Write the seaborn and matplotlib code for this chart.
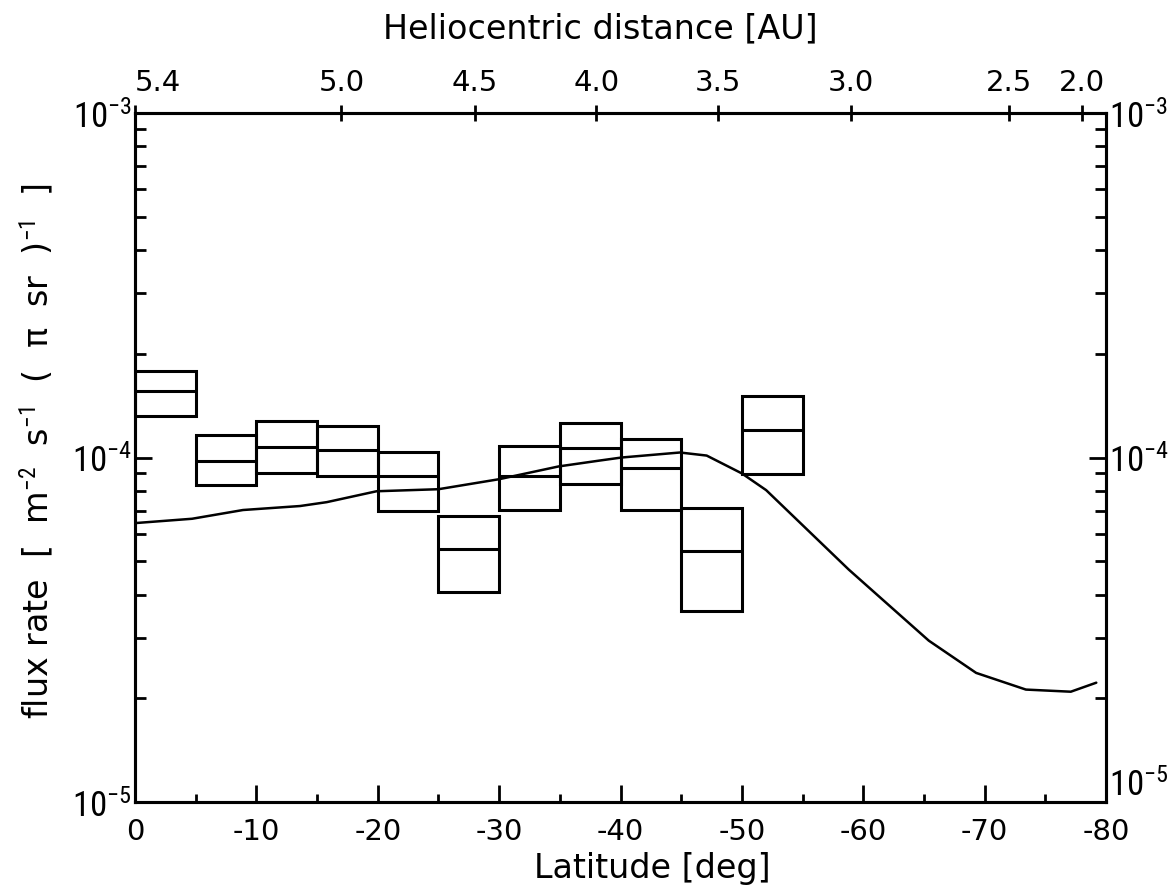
import numpy as np
import pandas as pd
import matplotlib
matplotlib.use("Agg")
import matplotlib.pyplot as plt
import seaborn as sns
from matplotlib.ticker import LogLocator, FixedLocator, NullFormatter, FixedFormatter
from matplotlib import font_manager

# ---------------- data ----------------
bin_center = [-2.5, -7.5, -12.5, -17.5, -22.5, -27.5, -32.5, -37.5, -42.5, -47.5, -52.5]
flux_mid = [1.56e-4, 9.80e-5, 1.076e-4, 1.054e-4, 8.82e-5, 5.44e-5, 8.82e-5, 1.069e-4, 9.30e-5, 5.36e-5, 1.204e-4]
flux_low = [1.32e-4, 8.31e-5, 8.99e-5, 8.82e-5, 6.99e-5, 4.06e-5, 7.04e-5, 8.36e-5, 7.04e-5, 3.58e-5, 8.93e-5]
flux_high = [1.78e-4, 1.165e-4, 1.278e-4, 1.236e-4, 1.034e-4, 6.76e-5, 1.083e-4, 1.261e-4, 1.134e-4, 7.13e-5, 1.507e-4]
bin_width = 5.0

model_lat = [0, -4.7, -8.9, -13.6, -15.8, -19.9, -25.0, -30.0, -34.9, -38.3, -40.1,
             -44.9, -47.1, -50.0, -52.0, -58.8, -61.3, -65.4, -69.3, -73.4, -77.1, -79.2]
model_flux = [6.45e-5, 6.64e-5, 7.04e-5, 7.23e-5, 7.42e-5, 7.98e-5, 8.09e-5, 8.65e-5, 9.42e-5,
              9.80e-5, 1.0e-4, 1.034e-4, 1.013e-4, 8.99e-5, 8.04e-5, 4.73e-5, 3.95e-5,
              2.94e-5, 2.37e-5, 2.12e-5, 2.09e-5, 2.22e-5]

lat_ticks = [0, -10, -20, -30, -40, -50, -60, -70, -80]
lat_labels = ["0", "-10", "-20", "-30", "-40", "-50", "-60", "-70", "-80"]
dist_tick_lat = [0, -17, -28, -38, -48, -59, -72, -78]
dist_labels = ["5.4", "5.0", "4.5", "4.0", "3.5", "3.0", "2.5", "2.0"]
flux_ticks = [1e-5, 1e-4, 1e-3]
flux_labels = [r"$10^{-5}$", r"$10^{-4}$", r"$10^{-3}$"]

# ---------------- style ----------------
sns.set_style("ticks")
installed = {f.name for f in font_manager.fontManager.ttflist}
narrow = None
for cand in ["Roboto Condensed", "Liberation Sans Narrow", "DejaVu Sans Condensed"]:
    if cand in installed:
        narrow = cand
        break
plt.rcParams["font.family"] = ["DejaVu Sans"]
if narrow:
    plt.rcParams["mathtext.fontset"] = "custom"
    plt.rcParams["mathtext.rm"] = narrow
    plt.rcParams["mathtext.it"] = narrow
    plt.rcParams["mathtext.sf"] = narrow
    plt.rcParams["mathtext.fallback"] = "stixsans"
for k in ["text.color", "axes.labelcolor", "xtick.color", "ytick.color", "axes.edgecolor"]:
    plt.rcParams[k] = "black"
plt.rcParams["axes.linewidth"] = 2.2
LABEL_FS = 24
TICK_FS = 21
YTICK_FS = 25 if narrow else 18

fig = plt.figure(figsize=(11.69, 8.95), dpi=100)
ax = fig.add_axes([135 / 1169, 1 - 803 / 895, (1106 - 135) / 1169, (803 - 114) / 895])

# boxes
heights = [h - l for h, l in zip(flux_high, flux_low)]
ax.bar(bin_center, heights, width=bin_width, bottom=flux_low, fill=False,
       edgecolor="black", linewidth=2.2, align="center")
ax.hlines(flux_mid, [c + bin_width / 2 for c in bin_center],
          [c - bin_width / 2 for c in bin_center], color="black", linewidth=2.2)

# model curve
df = pd.DataFrame({"lat": model_lat, "flux": model_flux})
sns.lineplot(data=df, x="lat", y="flux", ax=ax, color="black", linewidth=1.8,
             sort=False, estimator=None)

ax.set_yscale("log")
ax.set_ylim(1e-5, 1e-3)
ax.set_xlim(0, -80)

ax.xaxis.set_major_locator(FixedLocator(lat_ticks))
ax.xaxis.set_major_formatter(FixedFormatter(lat_labels))
ax.xaxis.set_minor_locator(FixedLocator([-5, -15, -25, -35, -45, -55, -65, -75]))
ax.yaxis.set_major_locator(FixedLocator(flux_ticks))
ax.yaxis.set_major_formatter(FixedFormatter(flux_labels))
ax.yaxis.set_minor_locator(LogLocator(base=10, subs=np.arange(2, 10), numticks=20))
ax.yaxis.set_minor_formatter(NullFormatter())

ax.tick_params(axis="x", which="major", direction="in", length=12, width=2,
               labelsize=TICK_FS, pad=11, top=False)
ax.tick_params(axis="x", which="minor", direction="in", length=6, width=2, top=False)
ax.tick_params(axis="y", which="major", direction="in", length=12, width=2,
               labelsize=YTICK_FS, left=True, right=True, labelleft=True, labelright=True, pad=2)
ax.tick_params(axis="y", which="minor", direction="in", length=8, width=2,
               left=True, right=True)

ax.set_xlabel("Latitude [deg]", fontsize=LABEL_FS, labelpad=4)
ax.xaxis.label.set_x(0.533)
ax.set_ylabel("flux rate  [  m$^{-2}$  s$^{-1}$  (  π  sr  )$^{-1}$  ]",
              fontsize=LABEL_FS, labelpad=12)
ax.yaxis.label.set_y(0.51)

# top axis: heliocentric distance
ax2 = ax.twiny()
ax2.set_xlim(ax.get_xlim())
ax2.xaxis.set_major_locator(FixedLocator(dist_tick_lat))
ax2.xaxis.set_major_formatter(FixedFormatter(dist_labels))
ax2.xaxis.set_minor_locator(FixedLocator([]))
ax2.tick_params(axis="x", which="major", direction="inout", length=12, width=2,
                labelsize=TICK_FS, pad=6)
ax2.set_xlabel("Heliocentric distance [AU]", fontsize=LABEL_FS, labelpad=22)
ax2.xaxis.label.set_x(0.479)
for sp in ax2.spines.values():
    sp.set_linewidth(2.2)

fig.canvas.draw()
ax2.get_xticklabels()[0].set_horizontalalignment("left")
ax.yaxis.get_major_ticks()[0].label2.set_verticalalignment("bottom")
fig.savefig("out.png", dpi=100)
